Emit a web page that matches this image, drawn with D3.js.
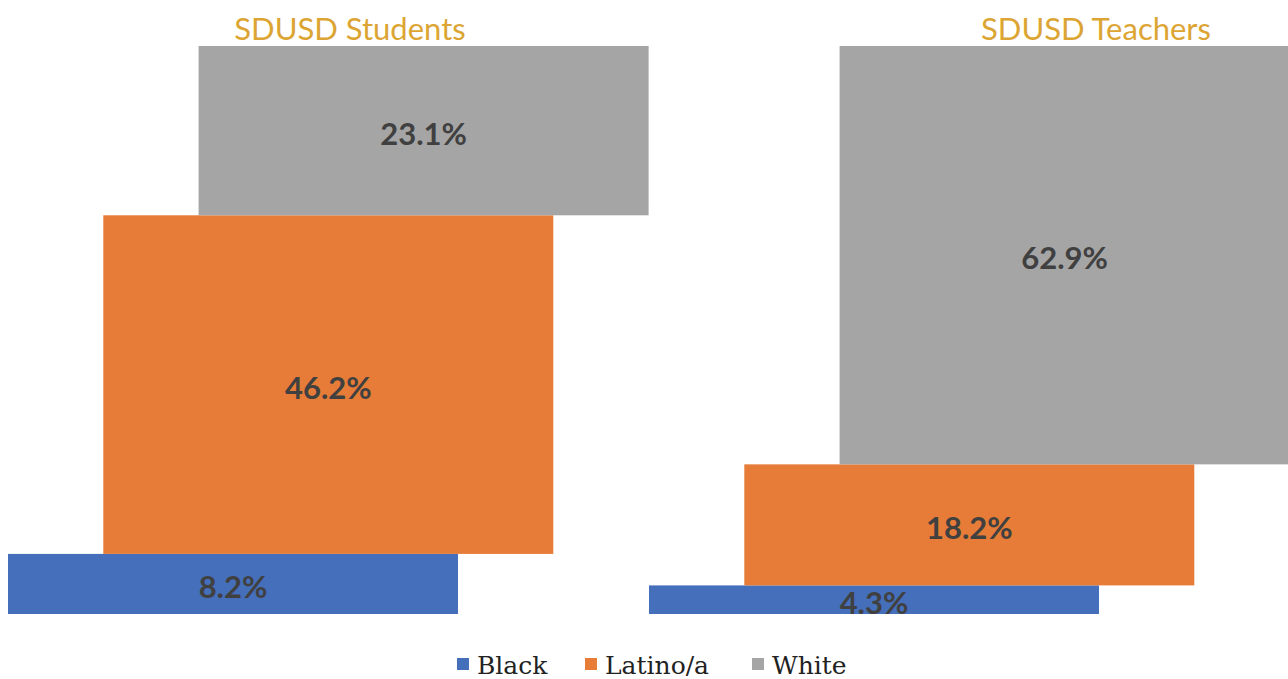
<!DOCTYPE html>
<html><head><meta charset="utf-8">
<script src="https://cdn.jsdelivr.net/npm/d3@7"></script>
<style>body{margin:0;background:#fff}svg{display:block}</style>
</head><body>
<svg id="c" width="1288" height="679"></svg>
<script>
const groups = ["SDUSD Students", "SDUSD Teachers"];
const categories = ["Black", "Latino/a", "White"];
const students = [8.2, 46.2, 23.1];
const teachers = [4.3, 18.2, 62.9];
const seriesValues = [students, teachers];
const colors = ["#456FBA", "#E67C37", "#A5A5A5"];

const svg = d3.select("#c");
const plotTop = 46, plotBottom = 614;

const xGroup = d3.scaleBand().domain(groups).range([8, 1290]).padding(0);
const xStep = d3.scaleLinear().domain([0, 1]).range([0, 95.3]);
const barW = 450;

groups.forEach((g, gi) => {
  const vals = seriesValues[gi];
  const total = d3.sum(vals);
  const y = d3.scaleLinear().domain([0, total]).range([plotBottom, plotTop]);
  const stacked = [];
  let acc = 0;
  vals.forEach((v, i) => { stacked.push({cat: categories[i], v, y0: acc, y1: acc + v, i}); acc += v; });
  const gx = xGroup(g);
  const grp = svg.append("g");
  grp.selectAll("rect").data(stacked).join("rect")
    .attr("x", d => gx + xStep(d.i))
    .attr("width", barW)
    .attr("y", d => y(d.y1))
    .attr("height", d => y(d.y0) - y(d.y1))
    .attr("fill", d => colors[d.i]);
  grp.selectAll("text.lbl").data(stacked).join("text")
    .attr("class", "lbl")
    .attr("x", d => gx + xStep(d.i) + barW / 2)
    .attr("y", d => (y(d.y0) + y(d.y1)) / 2 + 2)
    .attr("text-anchor", "middle")
    .attr("dominant-baseline", "central")
    .attr("font-family", "Lato, 'Open Sans', sans-serif")
    .attr("font-weight", "bold")
    .attr("font-size", 31)
    .attr("fill", "#404040")
    .text(d => d.v.toFixed(1) + "%");
});

// titles
const titleX = [350, 1096];
groups.forEach((g, gi) => {
  svg.append("text")
    .attr("x", titleX[gi]).attr("y", 40)
    .attr("text-anchor", "middle")
    .attr("font-family", "Lato, 'Open Sans', sans-serif")
    .attr("font-size", 31)
    .attr("fill", "#DCA533")
    .text(g);
});

// legend
const legX = [457, 585, 752];
const leg = svg.append("g");
categories.forEach((c, i) => {
  leg.append("rect").attr("x", legX[i]).attr("y", 658).attr("width", 12).attr("height", 12).attr("fill", colors[i]);
  leg.append("text").attr("x", legX[i] + 20).attr("y", 674)
    .attr("font-family", "'DejaVu Serif', 'Liberation Serif', serif")
    .attr("font-size", 25)
    .attr("fill", "#222")
    .text(c);
});
</script>
</body></html>
